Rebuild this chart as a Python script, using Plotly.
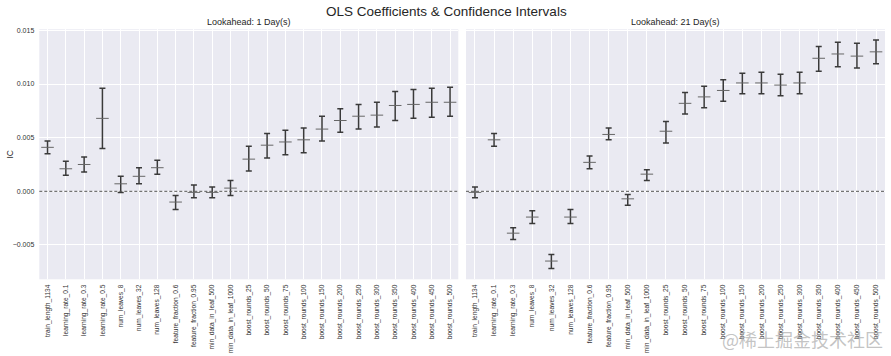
import plotly.graph_objects as go

# ---------------- data ----------------
left_categories = [
    "train_length_1134", "learning_rate_0.1", "learning_rate_0.3", "learning_rate_0.5",
    "num_leaves_8", "num_leaves_32", "num_leaves_128",
    "feature_fraction_0.6", "feature_fraction_0.95",
    "min_data_in_leaf_500", "min_data_in_leaf_1000",
    "boost_rounds_25", "boost_rounds_50", "boost_rounds_75", "boost_rounds_100",
    "boost_rounds_150", "boost_rounds_200", "boost_rounds_250", "boost_rounds_300",
    "boost_rounds_350", "boost_rounds_400", "boost_rounds_450", "boost_rounds_500",
]
left_coef = [0.0041, 0.0021, 0.0025, 0.0068, 0.0007, 0.0014, 0.0022, -0.0010, -0.0001,
             -0.0001, 0.0003, 0.0030, 0.0043, 0.0046, 0.0048, 0.0058, 0.0066, 0.0070,
             0.0071, 0.0080, 0.0081, 0.0083, 0.0083]
left_low = [0.0035, 0.0015, 0.0018, 0.0040, -0.0001, 0.0007, 0.0016, -0.0017, -0.0006,
            -0.0006, -0.0004, 0.0019, 0.0031, 0.0034, 0.0036, 0.0047, 0.0055, 0.0058,
            0.0060, 0.0066, 0.0068, 0.0069, 0.0070]
left_high = [0.0047, 0.0028, 0.0032, 0.0096, 0.0014, 0.0022, 0.0029, -0.0004, 0.0006,
             0.0004, 0.0010, 0.0042, 0.0054, 0.0057, 0.0059, 0.0070, 0.0077, 0.0081,
             0.0083, 0.0093, 0.0095, 0.0096, 0.0097]

right_categories = [
    "train_length_1134", "learning_rate_0.1", "learning_rate_0.3",
    "num_leaves_8", "num_leaves_32", "num_leaves_128",
    "feature_fraction_0.6", "feature_fraction_0.95",
    "min_data_in_leaf_500", "min_data_in_leaf_1000",
    "boost_rounds_25", "boost_rounds_50", "boost_rounds_75", "boost_rounds_100",
    "boost_rounds_150", "boost_rounds_200", "boost_rounds_250", "boost_rounds_300",
    "boost_rounds_350", "boost_rounds_400", "boost_rounds_450", "boost_rounds_500",
]
right_coef = [-0.0001, 0.0048, -0.0039, -0.0024, -0.0065, -0.0024, 0.0027, 0.0053,
              -0.0007, 0.0016, 0.0056, 0.0082, 0.0088, 0.0094, 0.0101, 0.0101, 0.0099,
              0.0101, 0.0124, 0.0128, 0.0126, 0.0130]
right_low = [-0.0006, 0.0042, -0.0045, -0.0030, -0.0072, -0.0030, 0.0021, 0.0048,
             -0.0013, 0.0010, 0.0045, 0.0072, 0.0078, 0.0084, 0.0091, 0.0091, 0.0089,
             0.0091, 0.0112, 0.0116, 0.0115, 0.0119]
right_high = [0.0004, 0.0054, -0.0034, -0.0018, -0.0059, -0.0017, 0.0033, 0.0059,
              -0.0003, 0.0020, 0.0065, 0.0092, 0.0098, 0.0104, 0.0110, 0.0111, 0.0109,
              0.0111, 0.0135, 0.0139, 0.0138, 0.0141]

y_ticks = [-0.005, 0.0, 0.005, 0.010, 0.015]
main_title = "OLS Coefficients & Confidence Intervals"
left_title = "Lookahead: 1 Day(s)"
right_title = "Lookahead: 21 Day(s)"
y_label = "IC"

# ---------------- figure ----------------
W, H = 891, 356
FONT = "Liberation Sans, Arial, sans-serif"
BG = "#EAEAF2"
BAR = "#3a3a3a"

fig = go.Figure()


def add_panel(cats, coef, low, high, xa, ya):
    fig.add_trace(go.Scatter(
        x=cats, y=coef, mode="markers", xaxis=xa, yaxis=ya,
        marker=dict(symbol="line-ew", size=9, color="#666",
                    line=dict(color="#666", width=1)),
        error_y=dict(type="data", symmetric=False,
                     array=[h - c for h, c in zip(high, coef)],
                     arrayminus=[c - l for c, l in zip(coef, low)],
                     color=BAR, thickness=1.5, width=3),
        showlegend=False, hoverinfo="skip",
    ))


add_panel(left_categories, left_coef, left_low, left_high, "x", "y")
add_panel(right_categories, right_coef, right_low, right_high, "x2", "y2")

ydom = [1 - 279.3 / H, 1 - 29.3 / H]
yrange = [-0.0082, 0.0151]

common_x = dict(
    type="category", showgrid=True, gridcolor="white", gridwidth=1,
    tickangle=-90, tickfont=dict(family=FONT, size=6.6, color="#333"),
    ticks="", zeroline=False, showline=False, ticklabelstandoff=3, automargin=False,
)
common_y = dict(
    range=yrange, domain=ydom, tickvals=y_ticks, showgrid=True, automargin=False,
    gridcolor="white", gridwidth=1, zeroline=False, showline=False, ticks="",
)

fig.update_layout(
    width=W, height=H, margin=dict(l=0, r=0, t=0, b=0),
    paper_bgcolor="white", plot_bgcolor=BG,
    font=dict(family=FONT, color="#262626"),
    xaxis=dict(domain=[39.3 / W, 458.3 / W], range=[-0.45, 22.45], anchor="y", **common_x),
    xaxis2=dict(domain=[466 / W, 885 / W], range=[-0.47, 21.47], anchor="y2", **common_x),
    yaxis=dict(anchor="x", tickformat=".3f", ticklabelstandoff=4,
               tickfont=dict(family=FONT, size=7, color="#333"),
               **common_y),
    yaxis2=dict(anchor="x2", matches="y", showticklabels=False, **common_y),
    showlegend=False,
)

for xr in ["x", "x2"]:
    fig.add_shape(type="line", xref=f"{xr} domain", yref="y", x0=0, x1=1, y0=0, y1=0,
                  line=dict(color="#555", width=1, dash="3px,2px"))

fig.add_annotation(text=y_label, x=9.5 / W, y=1 - 154 / H, xref="paper", yref="paper",
                   showarrow=False, textangle=-90,
                   font=dict(family=FONT, size=8.5, color="#262626"),
                   xanchor="center", yanchor="middle")
fig.add_annotation(text=main_title, x=446 / W, y=1 - 12 / H, xref="paper", yref="paper",
                   showarrow=False, font=dict(family=FONT, size=13.5, color="#262626"),
                   xanchor="center", yanchor="middle")
fig.add_annotation(text=left_title, x=(39.3 + 458.3) / 2 / W, y=1 - 22.5 / H, xref="paper",
                   yref="paper", showarrow=False,
                   font=dict(family=FONT, size=9, color="#262626"),
                   xanchor="center", yanchor="middle")
fig.add_annotation(text=right_title, x=(466 + 885) / 2 / W, y=1 - 22.5 / H, xref="paper",
                   yref="paper", showarrow=False,
                   font=dict(family=FONT, size=9, color="#262626"),
                   xanchor="center", yanchor="middle")
fig.add_annotation(text="@稀土掘金技术社区", x=885 / W, y=1 - 339 / H, xref="paper",
                   yref="paper", showarrow=False,
                   font=dict(family="Noto Sans CJK SC", size=18, color="rgba(170,170,170,0.7)"),
                   xanchor="right", yanchor="middle")

fig.write_html("out.html", config={"displayModeBar": False},
               post_script="document.body.style.margin='0px';document.body.style.overflow='hidden';")
